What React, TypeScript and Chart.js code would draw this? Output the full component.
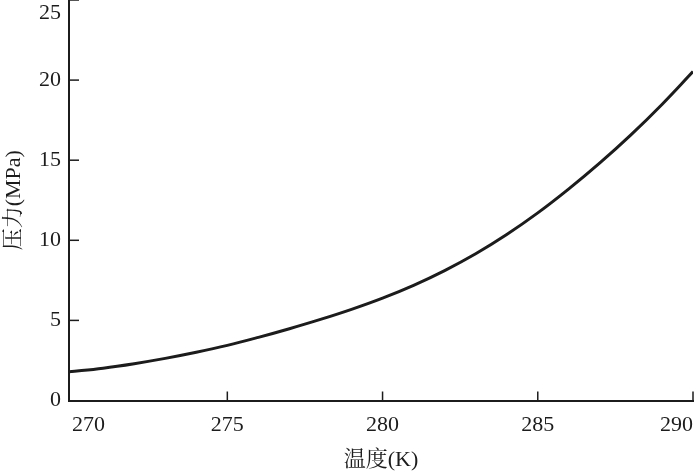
import React, { useEffect, useRef } from 'react';
import { Chart, registerables } from 'chart.js';

Chart.register(...registerables);

// Data
const temperatures = [269.9, 271, 272, 273, 274, 275, 276, 277, 278, 279, 280, 281, 282, 283, 284, 285, 286, 287, 288, 289, 290];
const pressures = [1.79, 2.02, 2.3, 2.63, 3.01, 3.44, 3.94, 4.48, 5.06, 5.69, 6.39, 7.19, 8.11, 9.16, 10.36, 11.71, 13.21, 14.83, 16.58, 18.48, 20.53];
const xTickValues = [270, 275, 280, 285, 290];
const yTickValues = [0, 5, 10, 15, 20, 25];
const xTitle = '温度(K)';
const yTitle = '压力(MPa)';

const FONT = '"Liberation Serif", "Times New Roman", "Noto Serif CJK SC", "Noto Sans CJK SC", serif';
const INK = '#1c1c1c';

const CANVAS_W = 700;
const CANVAS_H = 487;
const TOP_SHIFT = 14;

const inwardTicks = {
  id: 'inwardTicks',
  afterDraw(chart: any) {
    const { ctx, chartArea, scales } = chart;
    const xs = scales.x;
    const ys = scales.y;
    ctx.save();
    ctx.strokeStyle = INK;
    ctx.lineWidth = 1.5;
    xs.ticks.forEach((t: any) => {
      const px = xs.getPixelForValue(t.value);
      if (px - chartArea.left < 5) return;
      ctx.beginPath();
      ctx.moveTo(px, chartArea.bottom);
      ctx.lineTo(px, chartArea.bottom - 9);
      ctx.stroke();
    });
    ys.ticks.forEach((t: any) => {
      const py = ys.getPixelForValue(t.value);
      if (chartArea.bottom - py < 5) return;
      ctx.beginPath();
      ctx.moveTo(chartArea.left, py);
      ctx.lineTo(chartArea.left + 10, py);
      ctx.stroke();
    });
    ctx.restore();
  },
};

export default function App() {
  const ref = useRef<HTMLCanvasElement | null>(null);

  useEffect(() => {
    if (!ref.current) return;
    const chart = new Chart(ref.current, {
      type: 'line',
      data: {
        datasets: [
          {
            data: temperatures.map((t, i) => ({ x: t, y: pressures[i] })),
            borderColor: INK,
            borderWidth: 3,
            pointRadius: 0,
            tension: 0.4,
            fill: false,
          },
        ],
      },
      options: {
        responsive: false,
        animation: false,
        devicePixelRatio: 1,
        layout: { padding: { left: 0, right: 7, top: 0, bottom: 0 } },
        plugins: {
          legend: { display: false },
          tooltip: { enabled: false },
        },
        scales: {
          x: {
            type: 'linear',
            min: 269.9,
            max: 290,
            afterBuildTicks: (s: any) => {
              s.ticks = xTickValues.map((v) => ({ value: v }));
            },
            afterFit: (s: any) => {
              s.height = CANVAS_H - (TOP_SHIFT + 400.5);
              s.paddingLeft = 0;
              s.paddingRight = 0;
            },
            grid: { display: false, drawTicks: false },
            border: { display: true, color: INK, width: 2 },
            ticks: {
              align: 'inner',
              padding: 12,
              color: INK,
              font: { family: FONT, size: 22 },
              callback: (v: any) => String(v),
            },
            title: {
              display: true,
              text: xTitle,
              color: INK,
              font: { family: FONT, size: 22 },
              padding: { top: 0, bottom: 0 },
            },
          },
          y: {
            type: 'linear',
            min: 0,
            max: 25,
            afterBuildTicks: (s: any) => {
              s.ticks = yTickValues.map((v) => ({ value: v }));
            },
            afterFit: (s: any) => {
              s.width = 69;
              s.paddingTop = TOP_SHIFT;
              s.paddingBottom = 0;
            },
            grid: { display: false, drawTicks: false },
            border: { display: true, color: INK, width: 2 },
            ticks: {
              padding: 8,
              color: INK,
              font: { family: FONT, size: 22 },
              callback: (v: any) => (v === 25 ? ['', String(v)] : String(v)),
            },
            title: {
              display: true,
              text: yTitle,
              color: INK,
              font: { family: FONT, size: 22 },
              padding: { top: 1, bottom: 0 },
            },
          },
        },
      } as any,
      plugins: [inwardTicks],
    });
    return () => chart.destroy();
  }, []);

  return (
    <div
      style={{
        position: 'fixed',
        left: 0,
        top: 0,
        width: CANVAS_W,
        height: 473,
        overflow: 'hidden',
        background: '#fff',
      }}
    >
      <canvas
        ref={ref}
        width={CANVAS_W}
        height={CANVAS_H}
        style={{ position: 'absolute', left: 0, top: -TOP_SHIFT, width: CANVAS_W, height: CANVAS_H }}
      />
    </div>
  );
}
